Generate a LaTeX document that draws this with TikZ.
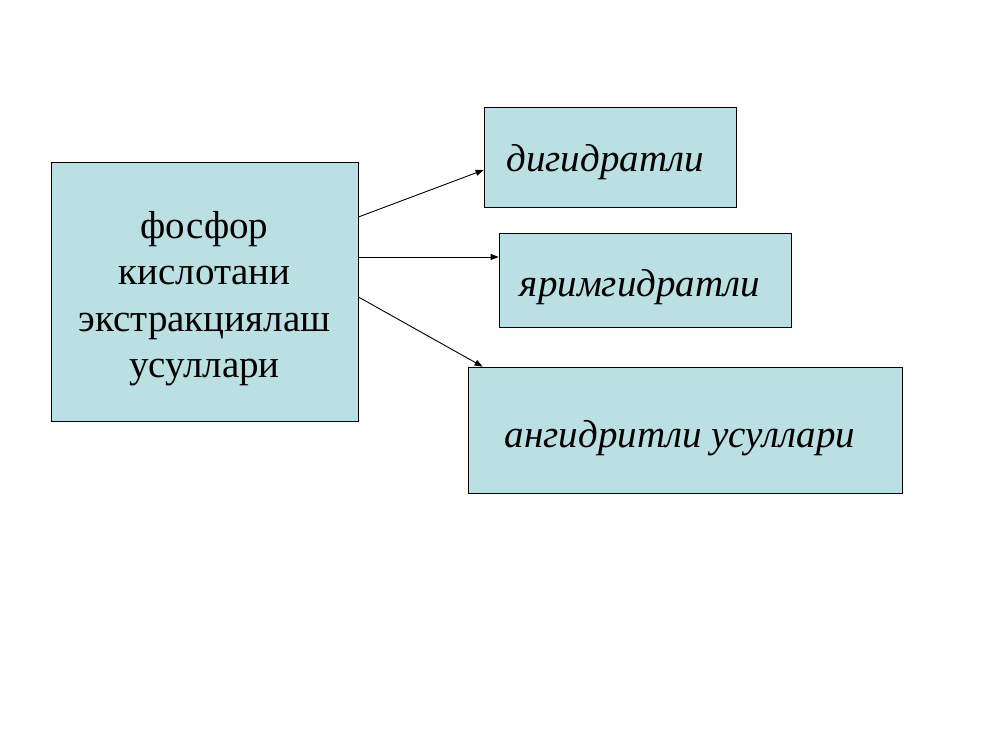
\documentclass[tikz,border=0pt]{standalone}
\usepackage{fontspec}
\setmainfont{Liberation Serif}
\usetikzlibrary{arrows.meta}
\definecolor{boxblue}{RGB}{187,224,227}

\begin{document}
\begin{tikzpicture}
          [x=1pt,y=1pt,
           blk/.style={draw=black,fill=boxblue,line width=0.8pt,inner sep=0pt},
           txt/.style={inner sep=0pt,font=\fontsize{39}{46.5}\selectfont},
           arr/.style={-{Triangle[length=8pt,width=6pt]},line width=0.9pt}]

          \useasboundingbox[fill=white] (0,0) rectangle (1000,750);

          \node[blk,minimum width=307pt,minimum height=259pt] (main) at (204.5,458.5) {};
          \node[blk,minimum width=252pt,minimum height=100pt] (dig) at (610,593) {};
          \node[blk,minimum width=292pt,minimum height=94pt] (yar) at (645,470) {};
          \node[blk,minimum width=434pt,minimum height=126pt] (ang) at (685,320) {};

          \node[txt,align=center] (maintxt) at ([yshift=-7pt]main.center) {фосфор\\кислотани\\экстракциялаш\\усуллари};
          \node[txt,font=\fontsize{39}{46}\selectfont\itshape] (digtxt) at ([xshift=-5pt,yshift=-5pt]dig.center) {дигидратли};
          \node[txt,font=\fontsize{39}{46}\selectfont\itshape] (yartxt) at ([xshift=-5pt,yshift=-7pt]yar.center) {яримгидратли};
          \node[txt,font=\fontsize{39}{46}\selectfont\itshape] (angtxt) at ([xshift=-5pt,yshift=-8pt]ang.center) {ангидритли усуллари};

          \draw[arr] ([yshift=74.5pt]main.east) -- ([yshift=-13pt]dig.west);
          \draw[arr] ([yshift=34.5pt]main.east) -- ([yshift=23pt]yar.west);
          \draw[arr] ([yshift=-5.5pt]main.east) -- ([xshift=15pt]ang.north west);
        \end{tikzpicture}
\end{document}
